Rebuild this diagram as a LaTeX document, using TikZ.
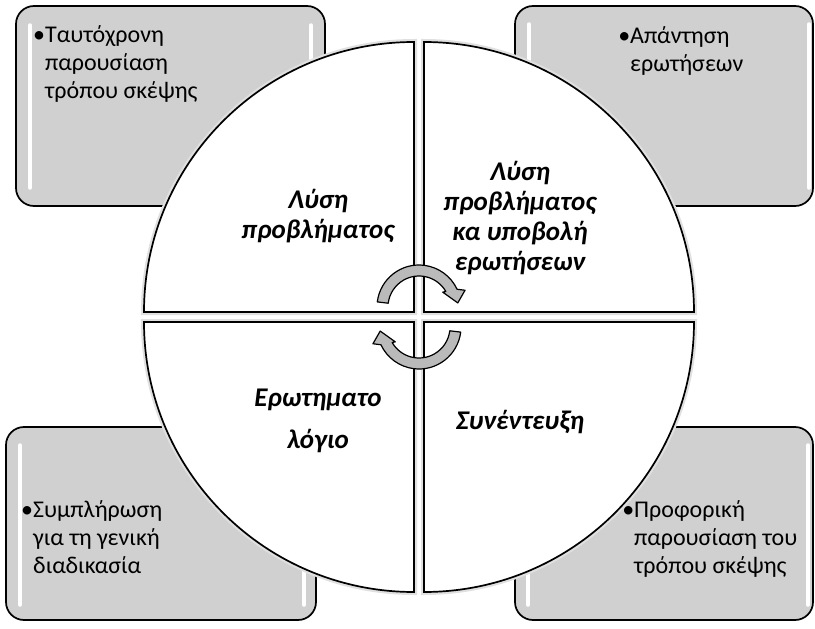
\documentclass[tikz,border=0pt]{standalone}
\usepackage{fontspec}
\setmainfont{Carlito}
\definecolor{boxgray}{RGB}{208,208,208}
\definecolor{arrowgray}{RGB}{186,186,186}
\tikzset{
  cyclearrow/.pic={
    \draw[arrowbody] (187:42) arc[start angle=187,end angle=335,radius=42]
      -- (340:49) -- (354:39) -- (328:28) -- (330:31)
      arc[start angle=330,end angle=187,radius=31] -- cycle;
  }
}

\begin{document}
\begin{tikzpicture}[x=1pt,y=-1pt,
  infobox/.style={draw=black,line width=1.7pt,fill=boxgray,rounded corners=18pt},
  shine/.style={white,line width=3.5pt,line cap=round},
  quadrant/.style={preaction={draw=black!12,line width=6pt},draw=black,line width=1.7pt,fill=white},
  bullettext/.style={font=\fontsize{24}{28}\selectfont,align=left,inner sep=0pt,anchor=base west},
  sectorlabel/.style={font=\fontsize{27}{30}\selectfont\bfseries\itshape,align=center,inner sep=0pt},
  arrowbody/.style={fill=arrowgray,draw=black,line width=1.2pt,line join=round}]
\useasboundingbox (0,0) rectangle (815,629);
\draw[infobox] (16,6) rectangle (325,206);
\draw[infobox] (515,6) rectangle (813,206);
\draw[infobox] (6,427) rectangle (316,620);
\draw[infobox] (515,427) rectangle (813,620);
\draw[shine] (30,25) -- (30,188);\draw[shine] (311,25) -- (311,188);
\draw[shine] (529,24) -- (529,188);\draw[shine] (809,24) -- (809,188);
\draw[shine] (20,445) -- (20,605);\draw[shine] (304,445) -- (304,605);
\draw[shine] (528,445) -- (528,605);\draw[shine] (808,445) -- (808,605);
\node[bullettext] (simul) at (45,98) {\llap{•}Ταυτόχρονη\\παρουσίαση\\τρόπου σκέψης};
\node[bullettext] (answer) at (630,71) {\llap{•}Απάντηση\\ερωτήσεων};
\node[bullettext] (fill) at (33,573) {\llap{•}Συμπλήρωση\\για τη γενική\\διαδικασία};
\node[bullettext] (oral) at (634,573) {\llap{•}Προφορική\\παρουσίαση του\\τρόπου σκέψης};
\draw[quadrant] (414,312) -- (144,312) arc[start angle=180,end angle=270,radius=270] -- cycle;
\draw[quadrant] (424,312) -- (424,42) arc[start angle=270,end angle=360,radius=270] -- cycle;
\draw[quadrant] (424,322) -- (694,322) arc[start angle=0,end angle=90,radius=270] -- cycle;
\draw[quadrant] (414,322) -- (414,592) arc[start angle=90,end angle=180,radius=270] -- cycle;
\node[sectorlabel] (solve) at (318,216) {Λύση\\προβλήματος};
\node[sectorlabel] (solveask) at (520,218) {Λύση\\προβλήματος\\κα υποβολή\\ερωτήσεων};
\node[sectorlabel,font=\fontsize{27}{42}\selectfont\bfseries\itshape] (quest) at (318,421) {Ερωτηματο\\λόγιο};
\node[sectorlabel] (interview) at (520,422) {Συνέντευξη};
\pic at (419,307) {cyclearrow};
\pic[rotate=180] at (419,327) {cyclearrow};
\end{tikzpicture}
\end{document}
